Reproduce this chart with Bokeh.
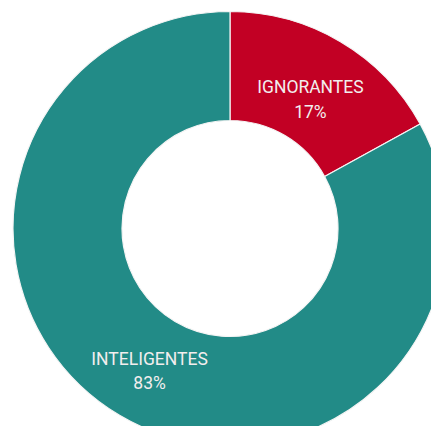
import math
from bokeh.plotting import figure
from bokeh.models import ColumnDataSource, Range1d
from bokeh.core.properties import value
from bokeh.embed import file_html
from bokeh.resources import INLINE

categories = ["IGNORANTES", "INTELIGENTES"]
values = [17, 83]
colors = ["#C20024", "#228B87"]

W, H = 431, 426
cx, cy = 229.5, H - 228.0
R_OUT, R_IN = 217, 108
R_LAB = 158

total = sum(values)
starts, ends, mids = [], [], []
acc = 0.0
for v in values:
    a0 = math.pi / 2 - 2 * math.pi * acc / total
    acc += v
    a1 = math.pi / 2 - 2 * math.pi * acc / total
    starts.append(a0)
    ends.append(a1)
    mids.append((a0 + a1) / 2)

lx = [cx + R_LAB * math.cos(m) for m in mids]
ly = [cy + R_LAB * math.sin(m) for m in mids]

src = ColumnDataSource(dict(
    start=starts, end=ends, color=colors,
    x=[cx] * len(values), y=[cy] * len(values),
    name_y=[y + 5.5 for y in ly], pct_y=[y - 19 for y in ly],
    lx=lx, name=categories, pct=[f"{v}%" for v in values],
))

p = figure(width=W, height=H, output_backend="svg", toolbar_location=None,
           x_range=Range1d(0, W), y_range=Range1d(0, H),
           min_border=0, outline_line_color=None)
p.axis.visible = False
p.grid.visible = False
p.background_fill_color = "white"
p.border_fill_color = "white"

p.annular_wedge(x="x", y="y", inner_radius=R_IN, outer_radius=R_OUT,
                start_angle="start", end_angle="end", direction="clock",
                fill_color="color", line_color="#f4f4f4", line_width=1.2,
                source=src)

p.text(x="lx", y="name_y", text="name", source=src,
       text_font=value("Roboto"), text_font_size="17.5px",
       text_color="#f2eeee", text_align="center", text_baseline="middle")
p.text(x="lx", y="pct_y", text="pct", source=src,
       text_font=value("Roboto"), text_font_size="17.5px",
       text_color="#f2eeee", text_align="center", text_baseline="middle")

open("out.html", "w").write(file_html(p, INLINE))
